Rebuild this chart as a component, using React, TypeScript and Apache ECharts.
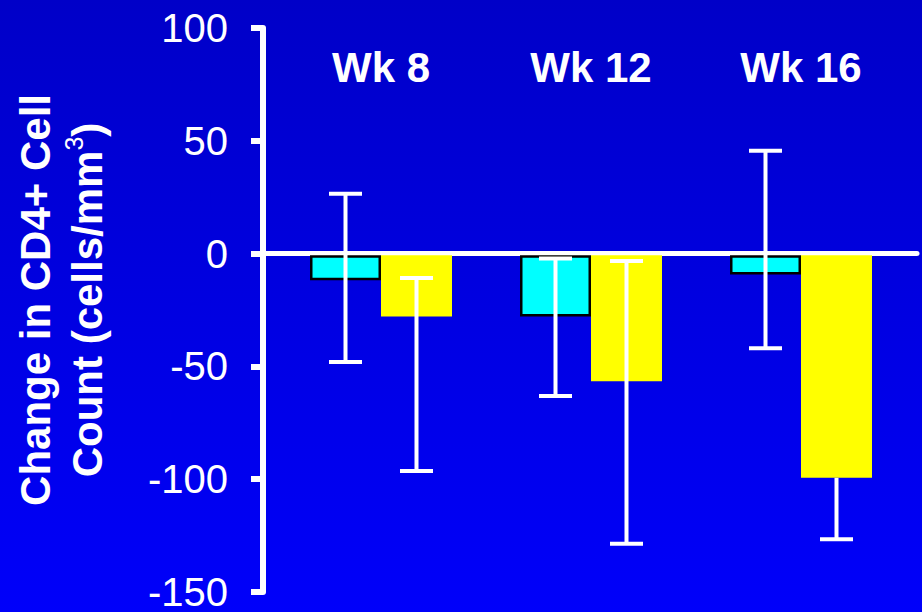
import React, { useEffect, useRef } from "react";
import * as echarts from "echarts";

const categories = ["Wk 8", "Wk 12", "Wk 16"];
const cyanValues = [-11, -27, -8.5];
const cyanHigh = [27, -1.5, 46];
const cyanLow = [-47, -62, -41];
const yellowValues = [-27, -55.5, -98];
const yellowHigh: (number | null)[] = [-10, -2.5, null];
const yellowLow = [-95, -127, -125];
const yTicks = { min: -150, max: 100, interval: 50 };

const FONT = 'Arial, "Liberation Sans", Helvetica, sans-serif';
const BAR_W = 71;
const CAP_W = 33;

function errorSeries(
  name: string,
  values: number[],
  high: (number | null)[],
  low: number[],
  side: number
) {
  const data = values.map((v, i) => [
    i,
    high[i] == null ? v : (high[i] as number),
    low[i],
    high[i] == null ? 0 : 1,
  ]);
  return {
    type: "custom",
    name,
    xAxisIndex: 1,
    yAxisIndex: 1,
    z: 5,
    silent: true,
    data,
    renderItem: (params: any, api: any) => {
      const idx = api.value(0);
      const hi = api.value(1);
      const lo = api.value(2);
      const showTop = api.value(3);
      const pHi = api.coord([idx, hi]);
      const pLo = api.coord([idx, lo]);
      const cx = pHi[0] + (side * BAR_W) / 2;
      const style = { stroke: "#ffffff", lineWidth: 4 };
      const children: any[] = [
        { type: "line", shape: { x1: cx, y1: pHi[1], x2: cx, y2: pLo[1] }, style },
        {
          type: "line",
          shape: { x1: cx - CAP_W / 2, y1: pLo[1], x2: cx + CAP_W / 2, y2: pLo[1] },
          style,
        },
      ];
      if (showTop) {
        children.push({
          type: "line",
          shape: { x1: cx - CAP_W / 2, y1: pHi[1], x2: cx + CAP_W / 2, y2: pHi[1] },
          style,
        });
      }
      return { type: "group", children };
    },
  };
}

export default function App() {
  const ref = useRef<HTMLDivElement>(null);
  useEffect(() => {
    if (!ref.current) return;
    const chart = echarts.init(ref.current, null, { renderer: "svg" });
    const option: any = {
      animation: false,
      backgroundColor: new echarts.graphic.LinearGradient(0, 0, 0, 1, [
        { offset: 0, color: "#0000C8" },
        { offset: 1, color: "#0000FA" },
      ]),
      textStyle: { fontFamily: FONT },
      grid: [
        { left: 263, right: 5, top: 28, bottom: 16 },
        { left: 276, right: 16, top: 28, bottom: 16 },
      ],
      xAxis: [
        {
          type: "value",
          gridIndex: 0,
          min: 0,
          max: 1,
          axisLine: { show: true, onZero: true, lineStyle: { color: "#ffffff", width: 5 } },
          axisTick: { show: false },
          axisLabel: { show: false },
          splitLine: { show: false },
        },
        {
          type: "category",
          gridIndex: 1,
          position: "top",
          data: categories,
          axisLine: { show: false, onZero: false },
          axisTick: { show: false },
          splitLine: { show: false },
          axisLabel: {
            inside: true,
            margin: 39,
            verticalAlign: "middle",
            color: "#ffffff",
            fontSize: 42,
            fontWeight: "bold",
            fontFamily: FONT,
          },
        },
      ],
      yAxis: [
        {
          type: "value",
          gridIndex: 0,
          min: yTicks.min,
          max: yTicks.max,
          interval: yTicks.interval,
          axisLine: { show: true, onZero: false, lineStyle: { color: "#ffffff", width: 6 } },
          axisTick: { show: true, length: 12, lineStyle: { color: "#ffffff", width: 6 } },
          axisLabel: { color: "#ffffff", fontSize: 40, margin: 35, fontFamily: FONT },
          splitLine: { show: false },
          name: "Change in CD4+ Cell\nCount (cells/mm{sup|3})",
          nameLocation: "middle",
          nameRotate: 90,
          nameGap: 150,
          nameTextStyle: {
            color: "#ffffff",
            fontSize: 42,
            fontWeight: "bold",
            fontFamily: FONT,
            lineHeight: 52,
            align: "center",
            padding: [0, 0, 0, 20],
            rich: {
              sup: {
                color: "#ffffff",
                fontSize: 25,
                fontWeight: "normal",
                fontFamily: FONT,
                verticalAlign: "top",
                lineHeight: 52,
              },
            },
          },
        },
        {
          type: "value",
          gridIndex: 1,
          min: yTicks.min,
          max: yTicks.max,
          interval: yTicks.interval,
          show: false,
          splitLine: { show: false },
        },
      ],
      series: [
        {
          type: "bar",
          name: "cyan",
          xAxisIndex: 1,
          yAxisIndex: 1,
          data: cyanValues,
          barWidth: BAR_W,
          barGap: "0%",
          itemStyle: { color: "#00FFFF", borderColor: "#000000", borderWidth: 2.5 },
        },
        {
          type: "bar",
          name: "yellow",
          xAxisIndex: 1,
          yAxisIndex: 1,
          data: yellowValues,
          barWidth: BAR_W,
          barGap: "0%",
          itemStyle: { color: "#FFFF00" },
        },
        errorSeries("cyanErr", cyanValues, cyanHigh, cyanLow, -1),
        errorSeries("yellowErr", yellowValues, yellowHigh, yellowLow, 1),
      ],
    };
    chart.setOption(option);
    return () => chart.dispose();
  }, []);
  return (
    <div
      ref={ref}
      style={{ position: "fixed", left: 0, top: 0, width: 922, height: 612 }}
    />
  );
}
